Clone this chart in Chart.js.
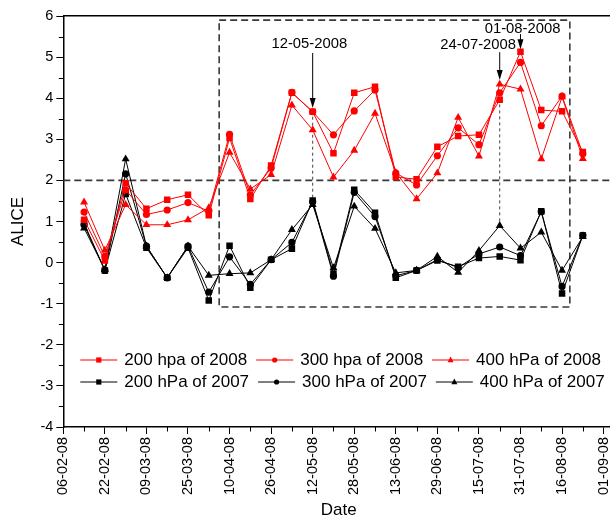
<!DOCTYPE html>
<html><head><meta charset="utf-8">
<script src="https://cdn.jsdelivr.net/npm/chart.js@4.4.1/dist/chart.umd.min.js"></script>
<style>
html,body{margin:0;padding:0;background:#fff;overflow:hidden;width:610px;height:523px}
#wrap{width:610px;height:523px;overflow:hidden;position:relative}
canvas{display:block}
</style></head>
<body><div id="wrap"><canvas id="c" width="630" height="523"></canvas></div>
<script>
// ---------- DATA ----------
const sampleDates = ['14-02-08','22-02-08','01-03-08','09-03-08','17-03-08','25-03-08','02-04-08','10-04-08',
  '18-04-08','26-04-08','04-05-08','12-05-08','20-05-08','28-05-08','05-06-08','13-06-08','21-06-08',
  '29-06-08','07-07-08','15-07-08','23-07-08','31-07-08','08-08-08','16-08-08','24-08-08'];
const tickLabels = ['06-02-08','22-02-08','09-03-08','25-03-08','10-04-08','26-04-08','12-05-08',
  '28-05-08','13-06-08','29-06-08','15-07-08','31-07-08','16-08-08','01-09-08'];
const seriesNames = ['200 hpa of 2008','300 hpa of 2008','400 hPa of 2008',
  '200 hPa of 2007','300 hPa of 2007','400 hPa of 2007'];
const hpa200y2008 = [1.04,0.05,1.93,1.31,1.53,1.65,1.15,3.03,1.55,2.36,4.13,3.67,2.66,4.13,4.28,2.08,2.03,2.82,3.08,3.11,3.96,5.13,3.71,3.68,2.69];
const hpa300y2008 = [1.23,0.15,1.77,1.17,1.28,1.46,1.25,3.12,1.65,2.30,4.14,3.67,3.11,3.69,4.20,2.18,1.89,2.60,3.28,2.87,4.13,4.87,3.33,4.05,2.65];
const hpa400y2008 = [1.47,0.30,1.41,0.92,0.92,1.04,1.33,2.68,1.79,2.14,3.83,3.23,2.08,2.73,3.63,2.19,1.55,2.18,3.53,2.59,4.34,4.22,2.52,4.03,2.53];
const hpa200y2007 = [0.96,-0.19,1.67,0.36,-0.37,0.36,-0.92,0.41,-0.61,0.07,0.34,1.51,-0.27,1.77,1.21,-0.37,-0.19,0.05,-0.10,0.11,0.15,0.06,1.25,-0.75,0.66];
const hpa300y2007 = [0.92,-0.19,2.16,0.40,-0.37,0.40,-0.72,0.14,-0.53,0.07,0.49,1.48,-0.33,1.71,1.12,-0.32,-0.19,0.07,-0.12,0.21,0.38,0.17,1.24,-0.58,0.66];
const hpa400y2007 = [0.84,-0.17,2.52,0.40,-0.37,0.40,-0.31,-0.27,-0.25,0.07,0.80,1.41,-0.13,1.37,0.83,-0.25,-0.19,0.15,-0.24,0.29,0.90,0.35,0.74,-0.19,0.63];
const thresholdValue = 2;
const markTexts = ['12-05-2008','24-07-2008','01-08-2008'];

// ---------- helpers ----------
const ORIGIN = Date.UTC(2008,1,6);
function dayOf(s){ const p = s.split('-').map(Number); return Math.round((Date.UTC(2000+p[2], p[1]-1, p[0]) - ORIGIN)/86400000); }
const sampleDays = sampleDates.map(dayOf);
const tickDays = tickLabels.map(dayOf);
const toXY = arr => arr.map((v,i)=>({x: sampleDays[i], y: v}));

// annotation layout (positions in axis units)
const annot = {
  box: {x0: 60, x1: 195, y0: -1.08, y1: 5.90},
  marks: [
    {idx: 11, textDx: -1.3, textY: 5.32, from: 5.10, to: 3.76, guideFrom: 3.55, guideTo: 1.56},
    {idx: 20, textDx: -8.3, textY: 5.30, from: 5.12, to: 4.44, guideFrom: 3.85, guideTo: 0.95},
    {idx: 21, textDx: 0.8, textY: 5.69, from: 5.56, to: 5.19, guideFrom: null, guideTo: null}
  ]
};

const FONT = "'Liberation Sans', Arial, Helvetica, sans-serif";
Chart.defaults.font.family = FONT;
Chart.defaults.color = '#000';

function marker(ctx, style, x, y, r, color){
  ctx.save(); ctx.fillStyle = color; ctx.strokeStyle = color; ctx.lineWidth = 1; ctx.setLineDash([]);
  ctx.beginPath();
  if (style === 'rect') ctx.rect(x - r, y - r, 2*r, 2*r);
  else if (style === 'circle') ctx.arc(x, y, r, 0, Math.PI*2);
  else { ctx.moveTo(x, y - r*1.15); ctx.lineTo(x + r, y + r*0.75); ctx.lineTo(x - r, y + r*0.75); ctx.closePath(); }
  ctx.fill(); ctx.restore();
}

const decor = {
  id: 'decor',
  beforeDatasetsDraw(chart){
    const {ctx, chartArea: ca, scales: {x, y}} = chart;
    ctx.save();
    ctx.strokeStyle = '#3a3a3a'; ctx.lineWidth = 1.6; ctx.setLineDash([7,4]);
    const yt = y.getPixelForValue(thresholdValue);
    ctx.beginPath(); ctx.moveTo(ca.left, yt); ctx.lineTo(ca.right, yt); ctx.stroke();
    const b = annot.box;
    const bx0 = x.getPixelForValue(b.x0), bx1 = x.getPixelForValue(b.x1);
    const by0 = y.getPixelForValue(b.y0), by1 = y.getPixelForValue(b.y1);
    ctx.strokeRect(bx0, by1, bx1 - bx0, by0 - by1);
    ctx.lineWidth = 1; ctx.setLineDash([3,3]); ctx.strokeStyle = '#444';
    annot.marks.forEach(m => {
      if (m.guideFrom == null) return;
      const px = x.getPixelForValue(sampleDays[m.idx]);
      ctx.beginPath(); ctx.moveTo(px, y.getPixelForValue(m.guideFrom)); ctx.lineTo(px, y.getPixelForValue(m.guideTo)); ctx.stroke();
    });
    ctx.restore();
  },
  afterDatasetsDraw(chart){
    const {ctx, chartArea: ca, scales: {x, y}} = chart;
    ctx.save();
    // arrows + labels
    ctx.setLineDash([]);
    ctx.font = '14.8px ' + FONT; ctx.fillStyle = '#000'; ctx.textAlign = 'center'; ctx.textBaseline = 'middle';
    annot.marks.forEach((m, i) => {
      const d = sampleDays[m.idx];
      const px = x.getPixelForValue(d);
      const y0 = y.getPixelForValue(m.from), y1 = y.getPixelForValue(m.to);
      ctx.strokeStyle = '#000'; ctx.lineWidth = 1;
      ctx.beginPath(); ctx.moveTo(px, y0); ctx.lineTo(px, y1 - 8); ctx.stroke();
      ctx.beginPath(); ctx.moveTo(px - 3, y1 - 10); ctx.lineTo(px + 3, y1 - 10); ctx.lineTo(px, y1); ctx.closePath(); ctx.fill();
      ctx.fillText(markTexts[i], x.getPixelForValue(d + m.textDx), y.getPixelForValue(m.textY));
    });
    // legend
    ctx.font = '17px ' + FONT; ctx.textAlign = 'left';
    const rows = [[0,1,2],[3,4,5]];
    rows.forEach((row, r) => {
      let xx = ca.left + 17; const yy = ca.bottom - 67 + r*22;
      row.forEach(i => {
        const ds = chart.data.datasets[i];
        ctx.strokeStyle = ds.borderColor; ctx.lineWidth = 1;
        ctx.beginPath(); ctx.moveTo(xx, yy); ctx.lineTo(xx + 37, yy); ctx.stroke();
        marker(ctx, ds.pointStyle, xx + 18.5, yy, ds.pointStyle === 'triangle' ? 3 : 2.6, ds.borderColor);
        ctx.fillStyle = '#000';
        ctx.fillText(ds.label, xx + 44, yy);
        xx += 44 + ctx.measureText(ds.label).width + 9;
      });
    });
    ctx.restore();
  },
  afterDraw(chart){
    const {ctx, chartArea: ca, scales: {x, y}} = chart;
    ctx.save(); ctx.strokeStyle = '#000'; ctx.lineWidth = 1;
    for (let d = 8; d < x.max; d += 16){
      const px = Math.round(x.getPixelForValue(d)) + 0.5;
      ctx.beginPath(); ctx.moveTo(px, ca.bottom); ctx.lineTo(px, ca.bottom + 4.5); ctx.stroke();
    }
    for (let v = -3.5; v < 6; v += 1){
      const py = Math.round(y.getPixelForValue(v)) + 0.5;
      ctx.beginPath(); ctx.moveTo(ca.left - 4.5, py); ctx.lineTo(ca.left, py); ctx.stroke();
    }
    ctx.restore();
  }
};

const styles = [
  ['#ff0000','rect',4.6],['#ff0000','circle',3.6],['#ff0000','triangle',4.6],
  ['#000000','rect',4.6],['#000000','circle',3.6],['#000000','triangle',4.6]
];
const seriesValues = [hpa200y2008,hpa300y2008,hpa400y2008,hpa200y2007,hpa300y2007,hpa400y2007];

new Chart(document.getElementById('c'), {
  type: 'line',
  data: {
    datasets: seriesValues.map((vals, i) => ({
      label: seriesNames[i],
      data: toXY(vals),
      borderColor: styles[i][0],
      backgroundColor: styles[i][0],
      pointBackgroundColor: styles[i][0],
      pointBorderColor: styles[i][0],
      pointStyle: styles[i][1],
      pointRadius: styles[i][2],
      pointBorderWidth: 0,
      borderWidth: 1,
      tension: 0,
      fill: false
    }))
  },
  options: {
    responsive: false,
    animation: false,
    devicePixelRatio: 1,
    layout: {padding: {left: 0, top: 16, right: 16, bottom: 0}},
    plugins: {legend: {display: false}, tooltip: {enabled: false}},
    scales: {
      x: {
        type: 'linear', position: 'bottom', min: 0, max: 212,
        afterBuildTicks: s => { s.ticks = tickDays.map(v => ({value: v})); },
        afterFit: s => { s.height = 96; },
        ticks: {
          autoSkip: false, minRotation: 90, maxRotation: 90, padding: 3,
          font: {size: 14.5}, color: '#000',
          callback: (v) => { const k = tickDays.indexOf(v); return k >= 0 ? tickLabels[k] : ''; }
        },
        grid: {drawOnChartArea: false, drawTicks: true, tickLength: 7, color: '#000', lineWidth: 1},
        border: {display: true, color: '#000', width: 1.5},
        title: {display: true, text: 'Date', font: {size: 17}, color: '#000', padding: {top: 0, bottom: 2}}
      },
      xTop: {
        type: 'linear', position: 'top', min: 0, max: 212,
        afterFit: s => { s.height = 0; },
        ticks: {display: false},
        grid: {drawOnChartArea: false, drawTicks: false},
        border: {display: true, color: '#000', width: 1.5}
      },
      y: {
        type: 'linear', position: 'left', min: -4, max: 6,
        afterFit: s => { s.width = 63.3; },
        ticks: {stepSize: 1, font: {size: 14.5}, color: '#000', padding: 3},
        grid: {drawOnChartArea: false, drawTicks: true, tickLength: 7, color: '#000', lineWidth: 1},
        border: {display: true, color: '#000', width: 1.5},
        title: {display: true, text: 'ALICE', font: {size: 17}, color: '#000', padding: {top: 8, bottom: 0}}
      }
    }
  },
  plugins: [decor]
});
</script>
</body></html>
